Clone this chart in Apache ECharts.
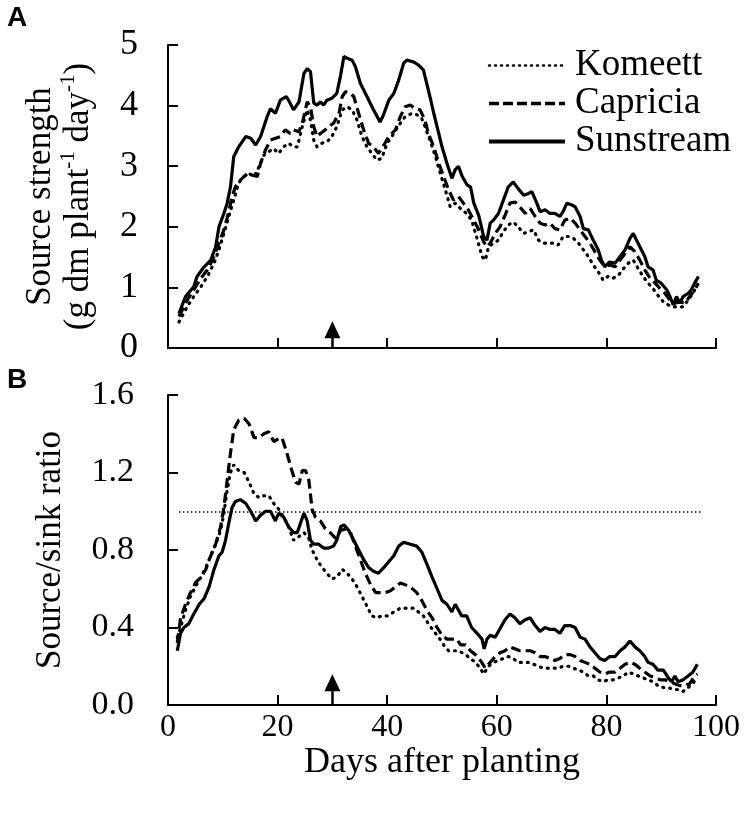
<!DOCTYPE html>
<html><head><meta charset="utf-8">
<script src="https://cdn.jsdelivr.net/npm/echarts@6/dist/echarts.min.js"></script>
<style>html,body{margin:0;padding:0;background:#fff}#c{width:746px;height:814px}</style>
</head><body><div id="c"></div>
<script>
const seriesNames = ['Komeett','Capricia','Sunstream'];
const xTicks = [0,20,40,60,80,100];
const arrowDay = 30;
const refRatio = 1.0;
const refSpan = [2, 97.5];

const komeettA = [[2,0.43],[3.5,0.68],[4.7,0.85],[6,1.01],[7.2,1.18],[8.4,1.4],[9.3,1.62],[10.2,1.89],[11.1,2.17],[12,2.44],[12.9,2.72],[13.8,2.83],[14.8,2.88],[15.7,2.83],[16.6,2.99],[17.5,3.18],[18.4,3.24],[19.3,3.29],[20.2,3.21],[21.1,3.32],[22,3.38],[22.9,3.32],[23.6,3.32],[24.5,3.65],[25.4,3.93],[26,3.76],[26.6,3.43],[27.2,3.32],[28.1,3.38],[29,3.4],[29.9,3.49],[30.8,3.65],[31.8,3.93],[32.7,3.98],[33.6,3.93],[34.5,3.76],[35.4,3.49],[36.3,3.32],[37.2,3.21],[38.1,3.1],[39,3.13],[40,3.38],[41.2,3.54],[42.4,3.71],[43.3,3.82],[44.5,3.87],[45.4,3.85],[46.3,3.79],[46.9,3.65],[47.8,3.43],[48.8,3.16],[49.7,2.88],[50.6,2.61],[51.5,2.33],[52.4,2.39],[53.6,2.28],[54.5,2.22],[55.4,2.11],[56.3,1.84],[57.3,1.51],[57.9,1.45],[58.5,1.67],[59.4,1.73],[60.3,1.78],[61.2,1.92],[62.1,2.03],[63,2.08],[63.9,2],[64.9,1.89],[65.8,1.92],[66.7,1.95],[67.6,1.78],[68.5,1.73],[69.4,1.73],[70.3,1.73],[71.2,1.7],[72.1,1.84],[73.1,1.84],[74,1.81],[74.9,1.73],[75.8,1.62],[76.7,1.51],[77.6,1.37],[78.5,1.26],[79.4,1.12],[80.3,1.18],[81.2,1.15],[82.2,1.2],[83.1,1.31],[84,1.4],[84.9,1.45],[85.8,1.31],[86.7,1.18],[87.6,1.07],[88.5,0.98],[89.4,0.87],[90.4,0.76],[91.3,0.71],[92.2,0.68],[93.1,0.68],[94,0.68],[94.9,0.79],[95.8,0.9],[96.4,1.01]];
const capriciaA = [[2,0.52],[3.5,0.79],[4.7,0.96],[6,1.15],[7.2,1.29],[8.4,1.51],[9.3,1.73],[10.2,1.95],[11.1,2.25],[11.7,2.5],[12.3,2.66],[13.2,2.77],[14.5,2.88],[15.4,2.85],[16.3,2.83],[16.9,3.05],[17.8,3.27],[18.7,3.43],[19.6,3.46],[20.5,3.49],[21.4,3.6],[22.3,3.54],[22.9,3.6],[23.9,3.57],[24.5,3.71],[25.4,4.06],[26,3.98],[26.6,3.65],[27.2,3.49],[27.8,3.54],[28.7,3.6],[29.3,3.65],[30.2,3.71],[31.2,3.87],[31.8,4.15],[32.4,4.23],[33.3,4.2],[33.9,4.15],[34.8,3.87],[35.7,3.6],[36.6,3.38],[37.5,3.32],[38.4,3.21],[39.4,3.35],[40.3,3.49],[41.5,3.6],[42.4,3.82],[43.3,3.98],[44.2,4.01],[45.1,3.95],[46,3.93],[46.9,3.76],[47.5,3.54],[48.5,3.32],[49.4,3.05],[50.3,2.83],[51.2,2.61],[52.1,2.44],[53,2.5],[53.9,2.39],[54.8,2.28],[55.8,2.11],[56.7,1.95],[57.6,1.75],[58.2,1.67],[58.8,1.73],[59.7,1.89],[60.6,2],[61.5,2.19],[62.4,2.39],[63.3,2.41],[64.2,2.33],[65.2,2.22],[66.1,2.3],[67,2.17],[67.9,2.06],[68.8,2.03],[69.7,2.06],[70.6,1.97],[71.5,1.95],[72.4,2.11],[73.4,2.14],[74.3,2.06],[75.2,1.95],[76.1,1.84],[77,1.73],[77.9,1.59],[78.8,1.45],[79.7,1.34],[80.6,1.37],[81.6,1.34],[82.5,1.45],[83.4,1.56],[84.3,1.67],[85.2,1.59],[86.1,1.45],[87,1.29],[88,1.15],[88.9,1.07],[89.8,0.98],[90.7,0.9],[91.6,0.79],[92.5,0.74],[93.4,0.76],[94.3,0.74],[95.2,0.85],[96.1,0.96],[96.8,1.07]];
const sunstreamA = [[2,0.57],[3.2,0.85],[4.7,1.01],[5.3,1.18],[6.6,1.34],[7.8,1.45],[8.7,1.67],[9.3,2],[10.2,2.22],[10.8,2.39],[11.4,2.66],[12,3.16],[12.9,3.32],[14.2,3.49],[15.1,3.46],[16,3.35],[16.9,3.49],[18.1,3.82],[18.7,3.95],[19.6,3.87],[20.5,4.09],[21.6,4.15],[22.3,4.04],[22.9,3.93],[23.9,4.06],[24.8,4.53],[25.4,4.61],[26,4.56],[26.6,4.04],[27.2,4.01],[27.8,4.06],[28.4,4.01],[29,4.09],[29.9,4.12],[30.8,4.2],[31.5,4.5],[32.1,4.81],[32.7,4.78],[33.6,4.75],[34.2,4.64],[35.1,4.37],[36.3,4.15],[37.5,3.93],[38.7,3.73],[39.3,3.84],[40.3,4.09],[41.2,4.2],[42.1,4.42],[43,4.7],[43.6,4.75],[44.8,4.72],[45.7,4.67],[46.6,4.59],[47.2,4.37],[47.8,4.15],[48.5,3.87],[49.4,3.54],[50,3.32],[50.9,3.05],[51.8,2.8],[52.4,2.94],[53,3],[53.7,2.83],[54.6,2.69],[55.2,2.66],[55.8,2.39],[56.7,2.19],[57.6,1.84],[58.2,1.78],[58.8,2.06],[59.4,2.11],[60.3,2.22],[61.2,2.44],[62.1,2.66],[63,2.74],[63.9,2.63],[64.9,2.52],[65.8,2.55],[66.4,2.58],[67.3,2.39],[67.9,2.25],[68.8,2.28],[69.7,2.22],[70.6,2.22],[71.5,2.17],[72.1,2.25],[72.8,2.39],[73.7,2.36],[74.3,2.33],[75.2,2.17],[75.8,1.97],[76.7,1.95],[77.6,1.78],[78.5,1.62],[79.1,1.45],[79.7,1.34],[80.6,1.42],[81.6,1.4],[82.5,1.51],[83.4,1.62],[84.3,1.81],[84.9,1.89],[85.5,1.78],[86.1,1.67],[87,1.51],[87.6,1.34],[88.5,1.29],[89.1,1.12],[90,1.07],[91,0.96],[91.6,0.85],[92.2,0.71],[92.8,0.85],[93.4,0.74],[94,0.85],[94.9,0.9],[95.5,0.96],[96.1,1.07],[96.8,1.18]];

const komeettB = [[1.7,0.35],[2.3,0.4],[3.2,0.49],[4.1,0.56],[5,0.61],[6,0.66],[6.9,0.71],[7.8,0.77],[8.7,0.83],[9.6,0.9],[10.2,0.99],[10.8,1.11],[11.4,1.2],[12,1.24],[12.9,1.21],[13.9,1.2],[14.8,1.15],[15.7,1.09],[16.6,1.07],[17.5,1.08],[18.4,1.08],[19.3,1.04],[20.2,1.01],[21.1,0.97],[22,0.92],[22.9,0.85],[23.9,0.87],[24.8,0.89],[25.7,0.86],[26.3,0.8],[27.2,0.75],[28.1,0.71],[29,0.68],[29.9,0.65],[30.8,0.66],[31.8,0.7],[32.7,0.68],[33.6,0.65],[34.5,0.61],[35.4,0.56],[36.3,0.51],[37.2,0.46],[38.1,0.45],[39,0.46],[40,0.46],[41.2,0.48],[42.4,0.5],[43.6,0.5],[44.8,0.5],[45.7,0.48],[46.6,0.46],[47.5,0.42],[48.5,0.38],[49.4,0.35],[50.3,0.31],[51.2,0.28],[52.1,0.28],[53,0.28],[54.3,0.26],[55.2,0.24],[56.1,0.22],[57,0.19],[57.6,0.16],[58.5,0.2],[59.4,0.22],[60.3,0.23],[61.2,0.24],[62.1,0.25],[63,0.24],[63.9,0.22],[64.9,0.22],[65.8,0.22],[66.7,0.21],[67.6,0.2],[68.5,0.19],[69.4,0.19],[70.3,0.19],[71.2,0.19],[72.1,0.2],[73.1,0.2],[74,0.19],[74.9,0.18],[75.8,0.17],[76.7,0.15],[77.6,0.15],[78.5,0.13],[79.4,0.12],[80.3,0.13],[81.2,0.13],[82.2,0.14],[83.1,0.15],[84,0.17],[84.9,0.16],[85.8,0.15],[86.7,0.14],[87.6,0.13],[88.5,0.12],[89.4,0.1],[90.4,0.09],[91.3,0.09],[92.2,0.08],[93.1,0.08],[94,0.07],[94.9,0.09],[95.8,0.11],[96.4,0.14]];
const capriciaB = [[1.7,0.32],[2.3,0.45],[3.2,0.52],[4.1,0.58],[5,0.63],[6,0.66],[6.9,0.7],[7.8,0.77],[8.7,0.83],[9.6,0.92],[10.2,1.02],[10.8,1.16],[11.4,1.3],[12,1.42],[12.9,1.47],[13.9,1.48],[14.8,1.45],[15.7,1.38],[16.6,1.38],[17.5,1.4],[18.4,1.41],[19.3,1.36],[19.9,1.37],[20.8,1.38],[21.7,1.3],[22.6,1.21],[23.3,1.15],[23.9,1.14],[24.5,1.21],[25.1,1.21],[25.7,1.16],[26.3,1.01],[26.9,0.97],[27.8,0.95],[28.7,0.91],[29.6,0.89],[30.6,0.86],[31.5,0.9],[32.4,0.91],[33.3,0.89],[34.2,0.82],[35.1,0.75],[36,0.68],[37,0.62],[37.9,0.58],[38.7,0.58],[39.7,0.58],[40.6,0.59],[41.5,0.61],[42.4,0.63],[43.3,0.62],[44.2,0.61],[45.4,0.58],[46.3,0.54],[47.2,0.49],[48.2,0.45],[49.1,0.4],[50,0.36],[50.9,0.34],[51.8,0.34],[52.7,0.34],[53.4,0.31],[54.3,0.31],[55.2,0.28],[56.1,0.26],[57,0.23],[57.9,0.19],[58.8,0.22],[59.7,0.25],[60.6,0.27],[61.5,0.28],[62.4,0.3],[63.3,0.29],[64.2,0.28],[65.2,0.28],[66.1,0.28],[67,0.27],[67.9,0.25],[68.8,0.25],[69.7,0.24],[70.6,0.23],[71.5,0.24],[72.4,0.26],[73.4,0.26],[74.3,0.25],[75.2,0.23],[76.1,0.22],[77,0.21],[77.9,0.19],[78.8,0.17],[79.7,0.16],[80.6,0.17],[81.6,0.17],[82.5,0.19],[83.4,0.21],[84.3,0.22],[85.2,0.21],[86.1,0.19],[87,0.17],[88,0.15],[88.9,0.14],[89.8,0.13],[90.7,0.13],[91.6,0.12],[92.5,0.11],[93.4,0.1],[94.3,0.1],[95.2,0.11],[96.1,0.15],[96.6,0.16]];
const sunstreamB = [[1.7,0.28],[2.3,0.37],[2.9,0.4],[3.8,0.42],[4.7,0.47],[5.7,0.52],[6.6,0.55],[7.5,0.61],[8.4,0.7],[9.3,0.77],[9.9,0.79],[10.5,0.85],[11.1,0.94],[11.7,1.02],[12.3,1.05],[13.2,1.06],[14.2,1.04],[15.1,1],[16,0.95],[16.9,0.98],[17.8,1],[18.7,1],[19.6,0.95],[20.2,0.99],[21.1,0.97],[22,0.92],[22.9,0.89],[23.6,0.89],[24.2,0.94],[24.8,0.99],[25.4,0.95],[26,0.85],[26.6,0.83],[27.5,0.83],[28.4,0.81],[29.3,0.81],[30.2,0.82],[30.8,0.85],[31.5,0.92],[32.1,0.93],[33,0.9],[33.9,0.85],[34.8,0.8],[35.7,0.75],[36.6,0.71],[37.5,0.69],[38.4,0.68],[39.4,0.71],[40.3,0.74],[41.2,0.77],[42.1,0.82],[43,0.84],[44.2,0.83],[45.4,0.82],[46.3,0.79],[47.2,0.73],[48.2,0.66],[49.1,0.6],[50,0.54],[50.9,0.52],[51.8,0.48],[52.4,0.52],[53,0.49],[53.6,0.46],[54.5,0.46],[55.4,0.4],[56.4,0.37],[57.3,0.34],[57.7,0.29],[58.2,0.34],[58.8,0.36],[59.7,0.35],[60.7,0.4],[61.5,0.44],[62.4,0.47],[63.3,0.45],[64.2,0.42],[65.2,0.44],[66.1,0.45],[67,0.41],[67.9,0.38],[68.8,0.4],[69.7,0.39],[70.6,0.39],[71.5,0.37],[72.4,0.41],[73.4,0.41],[74.3,0.4],[75.2,0.35],[76.1,0.34],[77,0.3],[77.9,0.27],[78.8,0.24],[79.7,0.23],[80.6,0.25],[81.6,0.25],[82.5,0.28],[83.4,0.3],[84.3,0.33],[85.2,0.3],[86.1,0.28],[87,0.25],[87.6,0.22],[88.5,0.21],[89.4,0.18],[90.4,0.18],[91.3,0.14],[91.9,0.12],[92.5,0.15],[93.1,0.12],[94,0.13],[94.9,0.15],[95.8,0.17],[96.6,0.21]];

const FONT = 'Liberation Serif';
const styles = {
  Komeett: {type:[1,6], width:3.2, cap:'round'},
  Capricia: {type:[10,5], width:3.2},
  Sunstream: {type:'solid', width:3.2}
};
function mkSeries(name, data, gi, extra) {
  return Object.assign({
    name, type:'line', data, xAxisIndex:gi, yAxisIndex:gi,
    symbol:'none', smooth:false, animation:false,
    lineStyle: Object.assign({color:'#000'}, styles[name]),
    itemStyle:{color:'#000'}, z:3
  }, extra||{});
}
const chart = echarts.init(document.getElementById('c'), null, {renderer:'canvas'});
const axisLine = {show:true, lineStyle:{color:'#000', width:2}};
const tick = {show:true, inside:true, length:10, lineStyle:{color:'#000', width:2}};
const arrowLine = (tipVal) => ({
  silent:true, animation:false, symbol:['none','triangle'], symbolSize:[16,17],
  lineStyle:{color:'#000', width:2.5, type:'solid'}, label:{show:false},
  data:[[{coord:[arrowDay,0]},{coord:[arrowDay,tipVal]}]]
});
chart.setOption({
  backgroundColor:'#fff',
  animation:false,
  graphic:[
    {type:'text', left:7, top:4, style:{text:'A', font:'bold 28px "Liberation Sans"', fill:'#000'}},
    {type:'text', left:7, top:366, style:{text:'B', font:'bold 28px "Liberation Sans"', fill:'#000'}}
  ],
  legend:{
    data:[
      {name:seriesNames[0], lineStyle:{width:2.5, type:[1,5], cap:'round'}},
      {name:seriesNames[1], lineStyle:{width:3.5, type:[10,4]}},
      {name:seriesNames[2], lineStyle:{width:4}}
    ],
    orient:'vertical', left:482, top:42, itemWidth:76, itemHeight:14, itemGap:1,
    itemStyle:{opacity:0},
    lineStyle:{width:3.5, color:'#000'},
    textStyle:{fontFamily:FONT, fontSize:37, color:'#000', lineHeight:37, padding:[0,0,0,5]},
    inactiveColor:'#ccc'
  },
  grid:[
    {left:168, right:30, top:45, height:303},
    {left:168, right:30, top:395, height:310}
  ],
  xAxis:[
    {gridIndex:0, type:'value', min:0, max:100, interval:20, axisLine, axisTick:tick,
     axisLabel:{show:false}, splitLine:{show:false}},
    {gridIndex:1, type:'value', min:0, max:100, interval:20, axisLine, axisTick:tick,
     axisLabel:{show:true, fontFamily:FONT, fontSize:32, color:'#000', margin:7,
       formatter:(v)=> xTicks.includes(v) ? String(v) : ''},
     splitLine:{show:false},
     name:'Days after planting', nameLocation:'middle', nameGap:39,
     nameTextStyle:{fontFamily:FONT, fontSize:36, color:'#000'}}
  ],
  yAxis:[
    {gridIndex:0, type:'value', min:0, max:5, interval:1, axisLine, axisTick:tick,
     axisLabel:{fontFamily:FONT, fontSize:36, color:'#000', margin:30}, splitLine:{show:false},
     name:'{m|Source strength}\n{m|(g dm plant}{s|-1}{m| day}{s|-1}{m|)}', nameLocation:'middle', nameGap:72, nameRotate:90,
     nameTextStyle:{fontFamily:FONT, color:'#000', rich:{
       m:{fontFamily:FONT, fontSize:35, color:'#000', lineHeight:38, verticalAlign:'bottom'},
       s:{fontFamily:FONT, fontSize:21, color:'#000', lineHeight:38, verticalAlign:'top'}
     }}},
    {gridIndex:1, type:'value', min:0, max:1.6, interval:0.4, axisLine, axisTick:tick,
     axisLabel:{fontFamily:FONT, fontSize:34, color:'#000', margin:34, formatter:(v)=>v.toFixed(1)},
     splitLine:{show:false},
     name:'Source/sink ratio', nameLocation:'middle', nameGap:100, nameRotate:90,
     nameTextStyle:{fontFamily:FONT, fontSize:35, color:'#000'}}
  ],
  series:[
    mkSeries('Komeett', komeettA, 0, {markLine:arrowLine(0.3)}),
    mkSeries('Capricia', capriciaA, 0),
    mkSeries('Sunstream', sunstreamA, 0),
    mkSeries('Komeett', komeettB, 1, {markLine:{
      silent:true, animation:false, symbol:['none','none'], label:{show:false},
      lineStyle:{color:'#000', width:1.5, type:[1.5,2.5]},
      data:[[{coord:[refSpan[0],refRatio]},{coord:[refSpan[1],refRatio]}]]
    }}),
    mkSeries('Capricia', capriciaB, 1, {markLine:arrowLine(0.115)}),
    mkSeries('Sunstream', sunstreamB, 1)
  ]
});
</script></body></html>
